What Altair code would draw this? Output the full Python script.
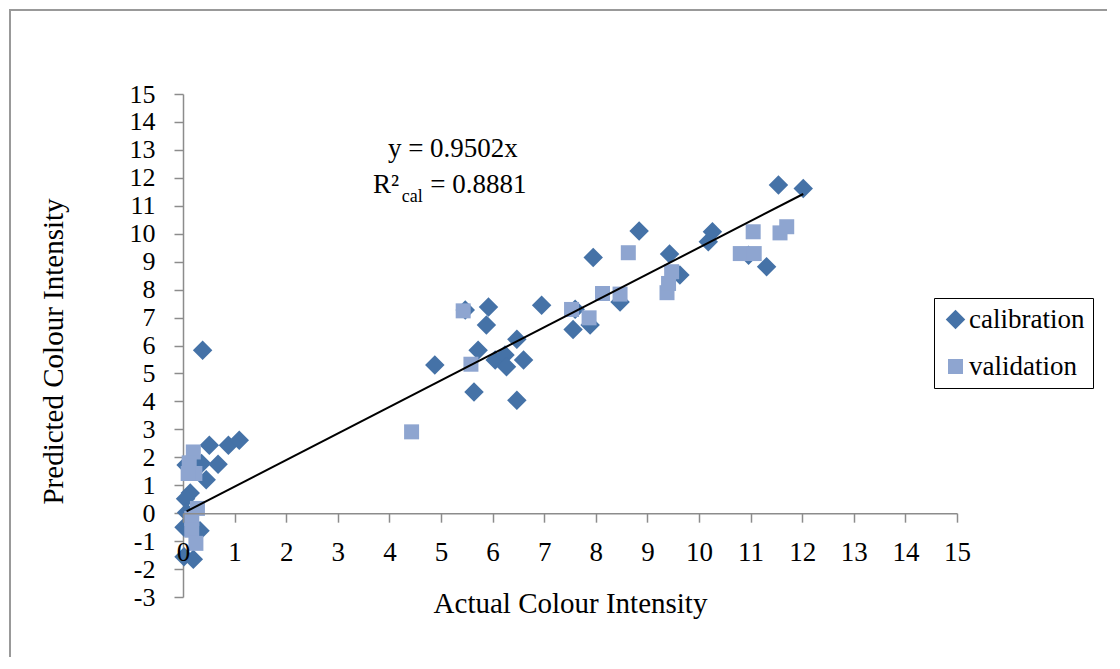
import altair as alt
import pandas as pd

# ---------------- data ----------------
CAL_X = [0.38, 0.51, 0.88, 1.09, 0.68, 0.45, 0.36, 0.06, 0.14, 0.05, 0.07, 0.02, 0.33, 0.02, 0.20,
         4.88, 5.47, 5.92, 5.88, 5.72, 5.64, 6.05, 6.24, 6.27, 6.47, 6.60, 6.47, 6.95, 7.60, 7.56,
         7.89, 7.95, 8.47, 8.84, 9.43, 9.63, 10.18, 10.26, 10.96, 11.31, 11.54, 12.02]
CAL_Y = [5.83, 2.43, 2.43, 2.61, 1.75, 1.20, 1.78, 1.72, 0.72, 0.52, 0.02, -0.50, -0.63, -1.56, -1.65,
         5.30, 7.27, 7.38, 6.73, 5.83, 4.34, 5.48, 5.66, 5.24, 6.22, 5.48, 4.04, 7.44, 7.30, 6.57,
         6.73, 9.15, 7.56, 10.10, 9.27, 8.52, 9.71, 10.07, 9.23, 8.82, 11.74, 11.62]

VAL_X = [0.20, 0.12, 0.23, 0.10, 0.28, 0.17, 0.17, 0.25,
         4.43, 5.43, 5.58, 7.53, 7.87, 8.13, 8.47, 8.63, 9.38, 9.41, 9.47, 10.80, 11.07, 11.05, 11.57, 11.70]
VAL_Y = [2.19, 1.80, 1.42, 1.42, 0.17, -0.19, -0.61, -1.08,
         2.91, 7.24, 5.33, 7.29, 6.99, 7.86, 7.84, 9.32, 7.89, 8.22, 8.64, 9.29, 9.29, 10.07, 10.03, 10.25]

SERIES = ["calibration", "validation"]
SLOPE = 0.9502
TREND_X = [0.07, 12.02]
X_TICKS = list(range(0, 16))
Y_TICKS = list(range(-3, 16))

EQ_TEXT = "y = 0.9502x"
R2_MAIN = "R²"
R2_SUB = "cal"
R2_VALUE = "= 0.8881"

# ---------------- tables ----------------
pts = pd.DataFrame({
    "x": CAL_X + VAL_X,
    "y": CAL_Y + VAL_Y,
    "series": [SERIES[0]] * len(CAL_X) + [SERIES[1]] * len(VAL_X),
})
trend = pd.DataFrame({"x": TREND_X, "y": [SLOPE * v for v in TREND_X]})

W, H = 774, 503
FONT = "Liberation Serif"
AX_COL = "#8c8c8c"

xs = alt.Scale(domain=[0, 15], nice=False, zero=False)
ys = alt.Scale(domain=[-3, 15], nice=False, zero=False)
zero_offset = -(H * 3 / 18)

x_axis = alt.Axis(values=X_TICKS, grid=False, offset=zero_offset, domainColor=AX_COL, domainWidth=1.5,
                  tickColor=AX_COL, tickWidth=1.5, tickSize=9, labelFont=FONT, labelFontSize=27,
                  labelColor="black", labelPadding=17, labelFlush=False, labelOverlap=False,
                  labelExpr="'' + datum.value",
                  title="Actual Colour Intensity", titleFont=FONT, titleFontSize=29, titleFontWeight="normal",
                  titleColor="black", titleBaseline="alphabetic", titleY=99, titleX=W / 2, titleAlign="center",
                  zindex=1)
y_axis = alt.Axis(values=Y_TICKS, grid=False, domainColor=AX_COL, domainWidth=1.5,
                  tickColor=AX_COL, tickWidth=1.5, tickSize=9, labelFont=FONT, labelFontSize=26,
                  labelColor="black", labelPadding=19, labelFlush=False, labelOverlap=False,
                  labelExpr="'' + datum.value",
                  title="Predicted Colour Intensity", titleFont=FONT, titleFontSize=29, titleFontWeight="normal",
                  titleColor="black", titleBaseline="alphabetic", titleAngle=270, titleX=-121, titleY=257,
                  titleAlign="center", zindex=0)

legend = alt.Legend(orient="none", legendX=751, legendY=204, strokeColor="black", padding=8,
                    labelFont=FONT, labelFontSize=27, labelColor="black", rowPadding=19,
                    labelOffset=0, symbolStrokeWidth=0)

X_ENC = alt.X("x:Q", scale=xs, axis=x_axis)
Y_ENC = alt.Y("y:Q", scale=ys, axis=y_axis)

frame = alt.Chart(pd.DataFrame({"a": [0]})).mark_rect(fillOpacity=0, stroke="#999999", strokeWidth=2).encode(
    x=alt.value(-173), y=alt.value(-84), x2=alt.value(1400), y2=alt.value(900))

points = alt.Chart(pts).mark_point(filled=True, opacity=1, strokeWidth=0).encode(
    x=X_ENC,
    y=Y_ENC,
    color=alt.Color("series:N", scale=alt.Scale(domain=SERIES, range=["#4572A7", "#8EA5D0"]),
                    legend=legend, title=None),
    shape=alt.Shape("series:N", scale=alt.Scale(domain=SERIES, range=["diamond", "square"]),
                    legend=legend, title=None),
    size=alt.Size("series:N", scale=alt.Scale(domain=SERIES, range=[380, 225]),
                  legend=legend, title=None),
)

line = alt.Chart(trend).mark_line(color="black", strokeWidth=2).encode(x=X_ENC, y=Y_ENC)

ann = pd.DataFrame({
    "x": [5.23, 3.68, 4.24, 4.79],
    "y": [12.74, 11.46, 11.14, 11.46],
    "t": [EQ_TEXT, R2_MAIN, R2_SUB, R2_VALUE],
})


def txt(rows, size, align):
    return alt.Chart(ann.iloc[rows]).mark_text(font=FONT, fontSize=size, align=align, baseline="alphabetic",
                                               color="black").encode(x=X_ENC, y=Y_ENC, text="t:N")


t_eq = txt([0], 27, "center")
t_r2 = txt([1, 3], 27, "left")
t_sub = txt([2], 18, "left")

chart = alt.layer(frame, points, line, t_eq, t_r2, t_sub).properties(
    width=W, height=H,
    autosize=alt.AutoSizeParams(type="none"),
    padding={"left": 175, "top": 86, "right": 150, "bottom": 60},
    background="white",
).configure_view(strokeWidth=0)

chart.save("out.html", embed_options={"renderer": "svg", "actions": False})
